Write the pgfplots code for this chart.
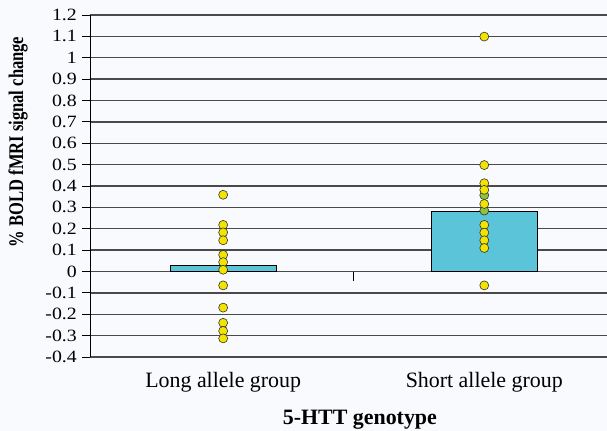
\documentclass[border=0pt]{standalone}
\usepackage{fontspec}
\setmainfont{Liberation Serif}
\usepackage{pgfplots}
\pgfplotsset{compat=1.18}
\definecolor{barc}{HTML}{5BC4D9}
\definecolor{dotc}{HTML}{F2E400}
\definecolor{dotg}{HTML}{8CC43C}
\definecolor{gridc}{HTML}{4A4A4A}
\definecolor{bgc}{HTML}{F9FAFD}
\begin{document}
\begin{tikzpicture}
\fill[bgc] (-90bp,-74bp) rectangle (517bp,357bp);
\useasboundingbox (-90bp,-74bp) rectangle (517bp,357bp);
\begin{axis}[
  at={(0,0)}, anchor=south west,
  scale only axis, width=517bp, height=342bp,
  xmin=-0.51, xmax=1.47, ymin=-0.4, ymax=1.2,
  axis line style={draw=none},
  ytick={-0.4,-0.3,-0.2,-0.1,0,0.1,0.2,0.3,0.4,0.5,0.6,0.7,0.8,0.9,1,1.1,1.2},
  yticklabels={-0.4,-0.3,-0.2,-0.1,0,0.1,0.2,0.3,0.4,0.5,0.6,0.7,0.8,0.9,1,1.1,1.2},
  ymajorgrids, grid style={gridc, line width=1.3pt},
  tick align=outside, major tick length=8bp,
  y tick style={black, line width=0.8pt},
  ytick pos=left, xtick pos=bottom,
  xtick={0,1}, xticklabels={Long allele group, Short allele group},
  x tick style={draw=none},
  yticklabel style={font=\fontsize{17.3}{19}\selectfont, xscale=1.15, xshift=-1bp},
  xticklabel style={font=\fontsize{22}{24}\selectfont, anchor=base, yshift=-22bp},
  xlabel={\textbf{5-HTT genotype}},
  xlabel style={font=\fontsize{22}{24}\selectfont, at={(rel axis cs:0.522,0)}, anchor=center, yshift=-63bp},
  ylabel={\textbf{\% BOLD fMRI signal change}},
  ylabel style={font=\fontsize{16.6}{18}\selectfont, at={([xshift=-72bp]rel axis cs:0,0.629)}, anchor=center, yscale=1.26},
  clip=false,
]
\addplot[ybar, bar width=106bp, fill=barc, draw=black, line width=0.6pt] coordinates {(0,0.03) (1,0.28)};
\addplot[only marks, mark=*, mark size=4.5bp, mark options={fill=dotg, draw=black!80, line width=0.6pt}] coordinates {
(1,0.357) (1,0.285)};
\addplot[only marks, mark=*, mark size=4.5bp, mark options={fill=dotc, draw=black!80, line width=0.6pt}] coordinates {
(0,0.359) (0,0.218) (0,0.183) (0,0.146) (0,0.078) (0,0.044) (0,0.008) (0,-0.065) (0,-0.169) (0,-0.240) (0,-0.278) (0,-0.313)
(1,1.099) (1,0.498) (1,0.413) (1,0.382) (1,0.316) (1,0.218) (1,0.182) (1,0.146) (1,0.110) (1,-0.065)};
\draw[black, line width=0.8pt] (rel axis cs:0,0) -- (rel axis cs:0,1);
\draw[black, line width=0.8pt] (axis cs:0.5,0) -- ([yshift=-9bp]axis cs:0.5,0);
\end{axis}
\end{tikzpicture}
\end{document}
